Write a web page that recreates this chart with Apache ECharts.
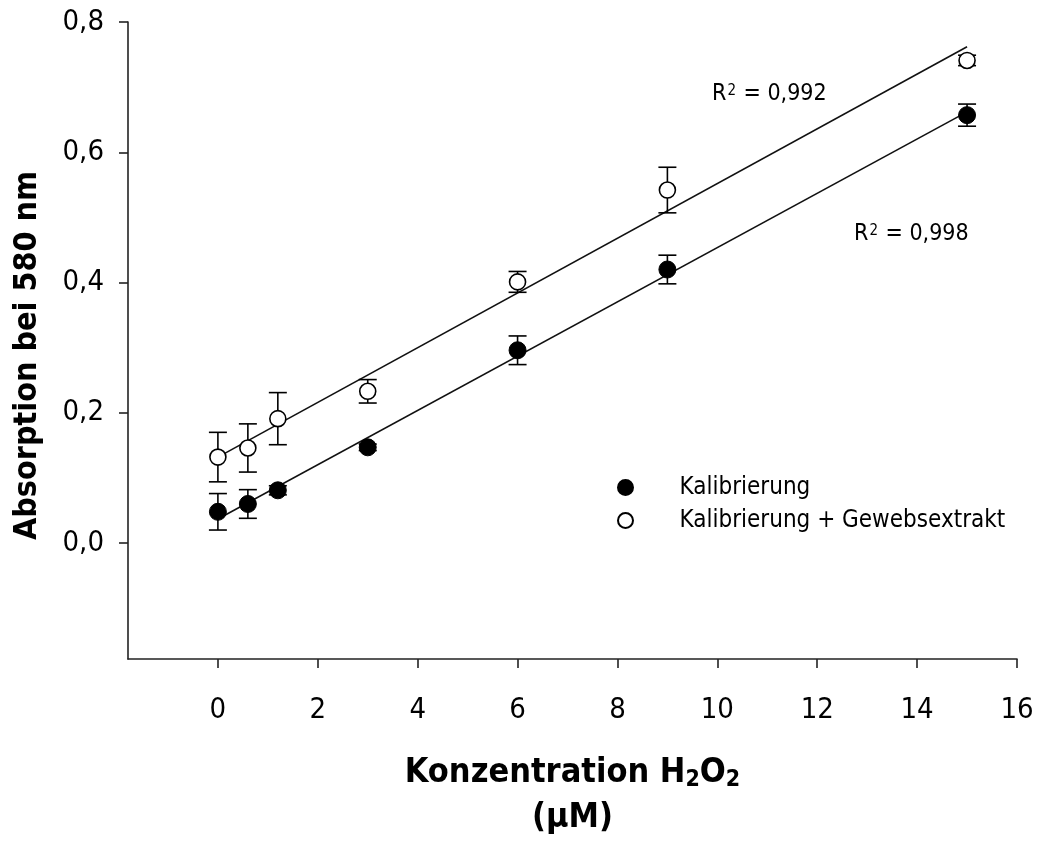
<!DOCTYPE html>
<html>
<head>
<meta charset="utf-8">
<script src="https://cdn.jsdelivr.net/npm/echarts@6/dist/echarts.min.js"></script>
<style>
  html, body { margin: 0; padding: 0; background: #fff; }
  #chart { width: 1037px; height: 844px; }
</style>
</head>
<body>
<div id="chart"></div>
<script>
// H2O2 concentrations (µM)
const concentrations = [0, 0.6, 1.2, 3, 6, 9, 15];
// Absorption at 580 nm, calibration only
const calibMean = [0.048, 0.060, 0.081, 0.147, 0.296, 0.420, 0.657];
const calibErr  = [0.028, 0.022, 0.007, 0.005, 0.022, 0.022, 0.017];
// Absorption at 580 nm, calibration + tissue extract
const tissueMean = [0.132, 0.146, 0.191, 0.233, 0.401, 0.542, 0.741];
const tissueErr  = [0.038, 0.037, 0.040, 0.018, 0.016, 0.035, 0.008];
// Regression line end points [x, y]
const calibFit  = [[0, 0.037], [15, 0.662]];
const tissueFit = [[0, 0.132], [15, 0.762]];
const calibR2 = '0,998';
const tissueR2 = '0,992';
// Tick labels
const xTicks = [0, 2, 4, 6, 8, 10, 12, 14, 16];
const yTicks = [0, 0.2, 0.4, 0.6, 0.8];

const seriesNames = ['Kalibrierung', 'Kalibrierung + Gewebsextrakt'];
const FONT = 'DejaVu Sans Condensed';

const pts = (ys) => concentrations.map((x, i) => [x, ys[i]]);
const errData = (ys, es) => concentrations.map((x, i) => [x, ys[i] - es[i], ys[i] + es[i]]);

function errorBars(params, api) {
  const x = api.value(0);
  const lo = api.coord([x, api.value(1)]);
  const hi = api.coord([x, api.value(2)]);
  const hw = 9;
  const style = { stroke: '#000', lineWidth: 1.6 };
  return {
    type: 'group',
    children: [
      { type: 'line', shape: { x1: lo[0], y1: lo[1], x2: hi[0], y2: hi[1] }, style },
      { type: 'line', shape: { x1: lo[0] - hw, y1: lo[1], x2: lo[0] + hw, y2: lo[1] }, style },
      { type: 'line', shape: { x1: hi[0] - hw, y1: hi[1], x2: hi[0] + hw, y2: hi[1] }, style }
    ]
  };
}

const r2Rich = {
  r: { fontSize: 23, fontFamily: FONT, fill: '#000', lineHeight: 26 },
  p: { fontSize: 15, fontFamily: FONT, fill: '#000', lineHeight: 26, verticalAlign: 'top', padding: [3, 1, 0, 1] }
};

const chart = echarts.init(document.getElementById('chart'), null, { renderer: 'canvas' });

chart.setOption({
  animation: false,
  backgroundColor: '#fff',
  textStyle: { fontFamily: FONT, color: '#000' },
  grid: { left: 128, right: 20, top: 22, bottom: 185, containLabel: false },
  xAxis: {
    type: 'value',
    min: -1.8,
    max: 16,
    splitLine: { show: false },
    axisLine: { onZero: false, lineStyle: { color: '#222', width: 1.6 } },
    axisTick: { customValues: xTicks, length: 9, lineStyle: { color: '#222', width: 1.6 } },
    axisLabel: {
      customValues: xTicks, margin: 37, fontSize: 29, color: '#000', fontFamily: FONT,
      formatter: (v) => String(v)
    },
    name: '{m|Konzentration H}{s|2}{m|O}{s|2}\n{m|(µM)}',
    nameLocation: 'middle',
    nameGap: 92,
    nameTextStyle: {
      fontFamily: FONT,
      fontWeight: 'bold',
      color: '#000',
      rich: {
        m: { fontSize: 34, fontWeight: 'bold', fontFamily: FONT, lineHeight: 45 },
        s: { fontSize: 23, fontWeight: 'bold', fontFamily: FONT, lineHeight: 22, verticalAlign: 'bottom', padding: [0, 0, 4, 0] }
      }
    }
  },
  yAxis: {
    type: 'value',
    min: -0.178,
    max: 0.8,
    splitLine: { show: false },
    axisLine: { onZero: false, lineStyle: { color: '#222', width: 1.6 } },
    axisTick: { customValues: yTicks, length: 9, lineStyle: { color: '#222', width: 1.6 } },
    axisLabel: {
      customValues: yTicks, margin: 24, fontSize: 29, color: '#000', fontFamily: FONT,
      formatter: (v) => v.toFixed(1).replace('.', ',')
    },
    name: 'Absorption bei 580 nm',
    nameLocation: 'middle',
    nameGap: 84,
    nameTextStyle: { fontSize: 32, fontWeight: 'bold', color: '#000', fontFamily: FONT, padding: [0, 30, 0, 0] }
  },
  legend: {
    orient: 'vertical',
    left: 617,
    top: 475,
    padding: 0,
    itemGap: 8,
    itemWidth: 30,
    itemHeight: 15,
    icon: 'circle',
    data: seriesNames,
    textStyle: { fontSize: 24, color: '#000', fontFamily: FONT, lineHeight: 25, padding: [0, 0, 0, 34] }
  },
  graphic: [
    { type: 'text', left: 712, top: 81, style: { text: '{r|R}{p|2}{r| = ' + tissueR2 + '}', rich: r2Rich } },
    { type: 'text', left: 854, top: 221, style: { text: '{r|R}{p|2}{r| = ' + calibR2 + '}', rich: r2Rich } }
  ],
  series: [
    {
      type: 'line', data: calibFit, symbol: 'none', silent: true, z: 1,
      lineStyle: { color: '#111', width: 1.6 }
    },
    {
      type: 'line', data: tissueFit, symbol: 'none', silent: true, z: 1,
      lineStyle: { color: '#111', width: 1.6 }
    },
    { type: 'custom', data: errData(calibMean, calibErr), renderItem: errorBars, z: 2, silent: true },
    { type: 'custom', data: errData(tissueMean, tissueErr), renderItem: errorBars, z: 2, silent: true },
    {
      name: seriesNames[0], type: 'scatter', data: pts(calibMean), symbol: 'circle', symbolSize: 17, z: 3,
      itemStyle: { color: '#000', borderColor: '#000', borderWidth: 1, opacity: 1 }
    },
    {
      name: seriesNames[1], type: 'scatter', data: pts(tissueMean), symbol: 'circle', symbolSize: 16, z: 3,
      itemStyle: { color: '#fff', borderColor: '#000', borderWidth: 1.6, opacity: 1 }
    }
  ]
});
</script>
</body>
</html>
